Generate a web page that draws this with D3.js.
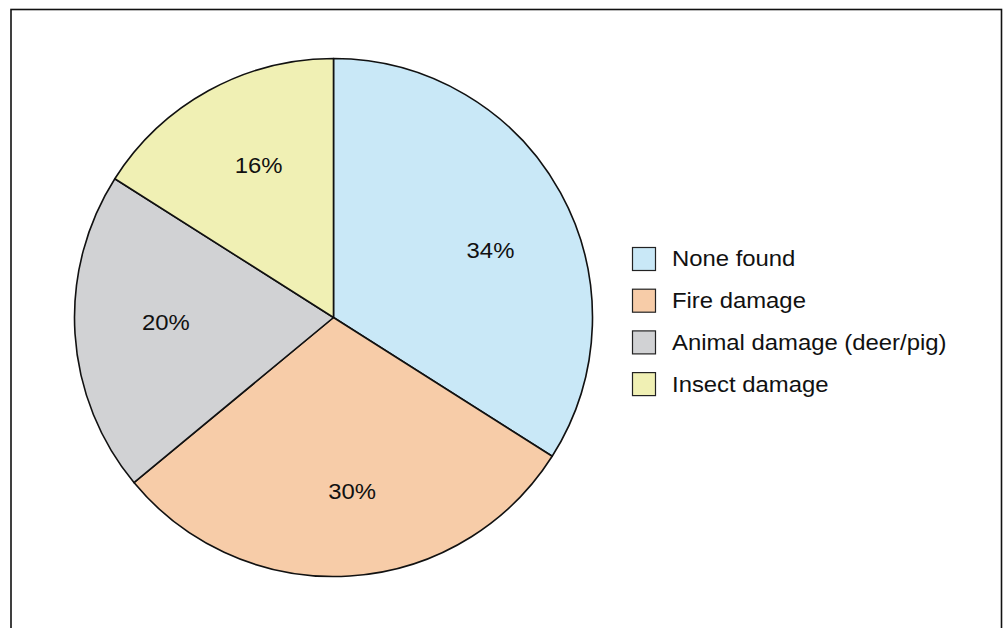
<!DOCTYPE html>
<html>
<head>
<meta charset="utf-8">
<script src="https://cdn.jsdelivr.net/npm/d3@7"></script>
<style>
  html, body { margin: 0; padding: 0; background: #fff; }
  svg { display: block; }
  text { font-family: "Liberation Sans", Arial, Helvetica, sans-serif; fill: #111; }
</style>
</head>
<body>
<svg id="chart" width="1004" height="628"></svg>
<script>
// Causes of damage found on surveyed trees (percent of trees)
const categories = ["None found", "Fire damage", "Animal damage (deer/pig)", "Insect damage"];
const percents = [34, 30, 20, 16];
const colors = ["#c9e8f7", "#f7cca8", "#d1d2d4", "#f0f0b4"];
// small nudges so each percentage sits where it reads best inside its slice
const labelNudge = [[8, 14], [8, 4], [2, -6], [7, -3]];

const svg = d3.select("#chart");

// outer frame (runs past the bottom edge)
svg.append("rect")
  .attr("x", 11).attr("y", 9.5)
  .attr("width", 990.5).attr("height", 700)
  .attr("fill", "none").attr("stroke", "#111").attr("stroke-width", 1.6);

const cx = 333.5, cy = 317.5, R = 259;
const stretch = 1.085; // slightly wide lettering

const pie = d3.pie().sort(null).value(d => d)
  .startAngle(0).endAngle(2 * Math.PI);
const arcs = pie(percents);
const arc = d3.arc().innerRadius(0).outerRadius(R);
const labelArc = d3.arc().innerRadius(170).outerRadius(170);

const g = svg.append("g").attr("transform", `translate(${cx},${cy})`);

g.selectAll("path.slice")
  .data(arcs)
  .join("path")
  .attr("class", "slice")
  .attr("d", arc)
  .attr("fill", (d, i) => colors[i])
  .attr("stroke", "#111")
  .attr("stroke-width", 1.6)
  .attr("stroke-linejoin", "round");

g.selectAll("text.pct")
  .data(arcs)
  .join("text")
  .attr("class", "pct")
  .attr("transform", (d, i) => {
    const [x, y] = labelArc.centroid(d);
    return `translate(${x + labelNudge[i][0]},${y + labelNudge[i][1]}) scale(${stretch},1)`;
  })
  .attr("text-anchor", "middle")
  .attr("dy", "0.36em")
  .style("font-size", "22px")
  .text(d => d.data + "%");

// legend
const legendX = 632, legendY = 247, rowGap = 41.7, box = 23;
const legend = svg.append("g");
const rows = legend.selectAll("g.row")
  .data(categories)
  .join("g")
  .attr("class", "row")
  .attr("transform", (d, i) => `translate(${legendX},${legendY + i * rowGap})`);

rows.append("rect")
  .attr("x", 0.5).attr("y", 0.5)
  .attr("width", box).attr("height", box)
  .attr("fill", (d, i) => colors[i])
  .attr("stroke", "#222").attr("stroke-width", 1.2);

rows.append("text")
  .attr("transform", `translate(40,${box / 2}) scale(${stretch},1)`)
  .attr("dy", "0.36em")
  .style("font-size", "22px")
  .text(d => d);
</script>
</body>
</html>
